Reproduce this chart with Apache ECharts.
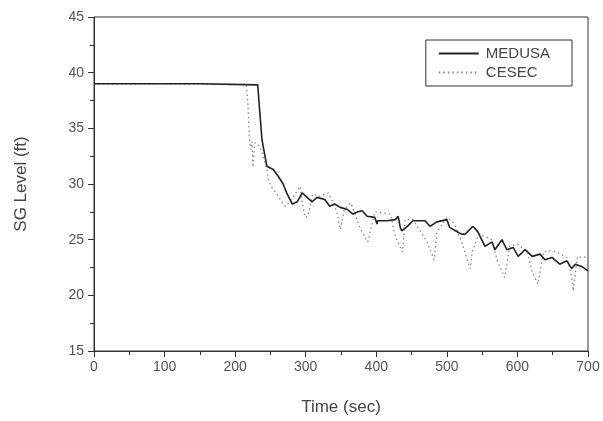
<!DOCTYPE html>
<html>
<head>
<meta charset="utf-8">
<script src="https://cdn.jsdelivr.net/npm/echarts@6/dist/echarts.min.js"></script>
<style>
  html, body { margin: 0; padding: 0; background: #fff; }
  #chart { width: 603px; height: 421px; }
</style>
</head>
<body>
<div id="chart"></div>
<script>
// time (sec) / level (ft)
const medusaTime = [0, 150, 151, 232, 235, 238, 242, 245, 254, 261, 268, 273, 281, 288, 295, 302, 309, 316, 327, 334,
  341, 349, 359, 367, 374, 380, 387, 398, 401, 402, 415, 427, 431, 434, 436, 444, 452, 469, 476, 486,
  500, 504, 512, 521, 526, 537, 544, 554, 564, 568, 578, 585, 594, 601, 611, 621, 632, 639, 649, 660,
  670, 677, 682, 691, 700];
const medusaLevel = [39.0, 39.0, 38.9, 38.9, 36.4, 34.0, 32.6, 31.6, 31.3, 30.7, 30.0, 29.2, 28.2, 28.4, 29.2, 28.8, 28.4, 28.8, 28.6, 28.0,
  28.2, 27.9, 27.7, 27.3, 27.5, 27.6, 27.1, 27.0, 26.4, 26.7, 26.7, 26.8, 27.1, 26.1, 25.8, 26.2, 26.7, 26.7, 26.2, 26.6,
  26.8, 26.1, 25.8, 25.5, 25.5, 26.2, 25.7, 24.4, 24.8, 24.1, 25.0, 24.1, 24.3, 23.5, 24.1, 23.5, 23.7, 23.2, 23.4, 22.8,
  23.1, 22.4, 22.8, 22.6, 22.2];

const cesecTime = [0, 150, 151, 216, 218, 219, 220, 222, 224, 225, 228, 235, 238, 245, 247, 252, 259, 266, 271, 280,
  292, 295, 299, 303, 310, 320, 332, 339, 344, 349, 355, 364, 378, 388, 398, 420, 427, 437, 441, 452,
  472, 482, 486, 500, 510, 521, 533, 536, 545, 564, 571, 582, 589, 600, 614, 621, 629, 637, 646, 655,
  670, 677, 679, 685, 693, 700];
const cesecLevel = [39.0, 39.0, 38.9, 38.9, 37.3, 35.8, 34.3, 33.1, 33.8, 31.5, 33.7, 33.4, 32.8, 31.3, 30.4, 29.7, 29.1, 28.4, 28.0, 28.6,
  29.8, 28.3, 27.0, 27.1, 29.1, 28.9, 29.2, 28.3, 27.5, 25.9, 27.8, 28.3, 25.9, 24.8, 27.5, 27.3, 25.3, 23.9, 26.8, 26.8,
  24.8, 23.2, 25.7, 27.0, 26.5, 24.8, 22.4, 23.9, 25.5, 25.0, 23.2, 21.6, 24.4, 24.6, 23.9, 22.1, 21.0, 23.9, 24.0, 23.9,
  23.4, 21.6, 20.4, 23.5, 23.4, 23.5];

const medusaData = medusaTime.map((t, i) => [t, medusaLevel[i]]);
const cesecData = cesecTime.map((t, i) => [t, cesecLevel[i]]);

let myChart = echarts.init(document.getElementById('chart'));
const font = '"Liberation Sans", Arial, sans-serif';

myChart.setOption({
  backgroundColor: '#fff',
  animation: false,
  grid: {
    left: 94, right: 15, top: 17, bottom: 69,
    show: true, borderColor: '#333', borderWidth: 1
  },
  legend: {
    orient: 'vertical',
    right: 31, top: 40,
    padding: [6, 22, 6, 12],
    itemGap: 4,
    itemWidth: 40, itemHeight: 12,
    borderColor: '#333', borderWidth: 1,
    itemStyle: { opacity: 0 },
    textStyle: { fontFamily: font, fontSize: 15, color: '#444', padding: [0, 0, 0, 2] },
    data: ['MEDUSA', 'CESEC']
  },
  xAxis: {
    type: 'value',
    min: 0, max: 700, interval: 100,
    name: 'Time (sec)', nameLocation: 'middle', nameGap: 48,
    nameTextStyle: { fontFamily: font, fontSize: 17, color: '#444' },
    axisLine: { lineStyle: { color: '#333' } },
    axisTick: { length: 6, lineStyle: { color: '#333' } },
    minorTick: { show: true, splitNumber: 2, length: 4, lineStyle: { color: '#333' } },
    axisLabel: { fontFamily: font, fontSize: 14, color: '#555', margin: 9 },
    splitLine: { show: false }
  },
  yAxis: {
    type: 'value',
    min: 15, max: 45, interval: 5,
    name: 'SG Level (ft)', nameLocation: 'middle', nameGap: 64,
    nameTextStyle: { fontFamily: font, fontSize: 17, color: '#444' },
    axisLine: { show: true, lineStyle: { color: '#333' } },
    axisTick: { show: true, length: 6, lineStyle: { color: '#333' } },
    minorTick: { show: true, splitNumber: 2, length: 4, lineStyle: { color: '#333' } },
    axisLabel: { fontFamily: font, fontSize: 14, color: '#555', margin: 10 },
    splitLine: { show: false }
  },
  series: [
    {
      name: 'MEDUSA', type: 'line', data: medusaData,
      symbol: 'none', color: '#222',
      lineStyle: { color: '#222', width: 1.6 },
      z: 3
    },
    {
      name: 'CESEC', type: 'line', data: cesecData,
      symbol: 'none', color: '#888',
      lineStyle: { color: '#888', width: 1.3, type: [1.5, 3] },
      z: 2
    }
  ]
});
</script>
</body>
</html>
